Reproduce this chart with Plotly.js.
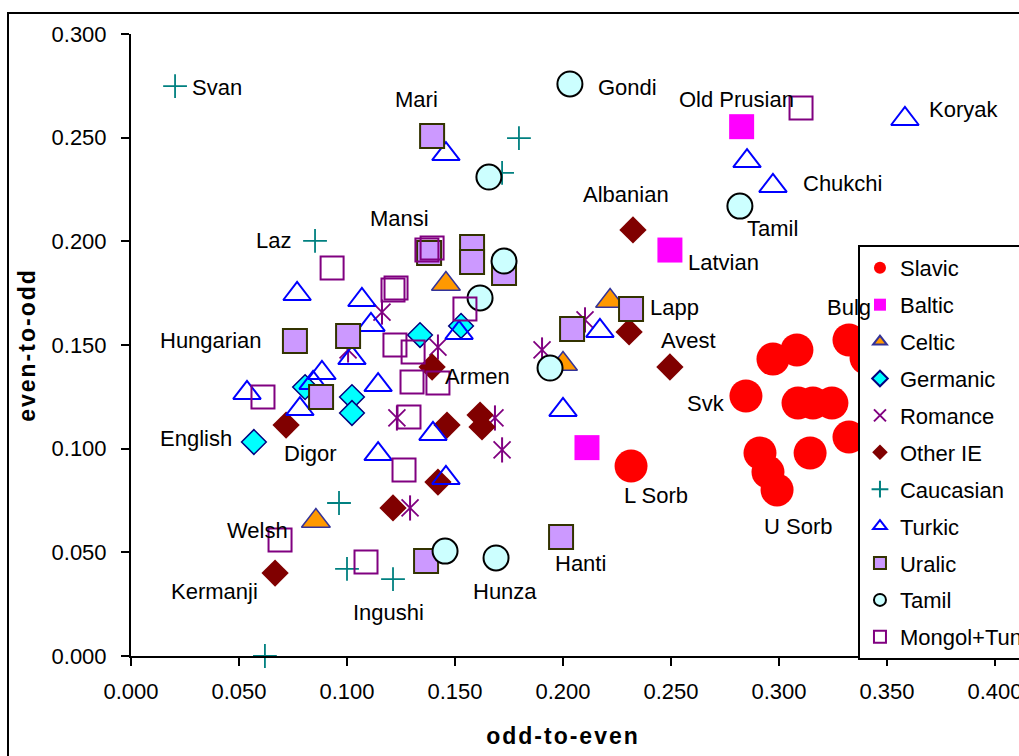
<!DOCTYPE html>
<html>
<head>
<meta charset="utf-8">
<script src="https://cdn.plot.ly/plotly-3.0.1.min.js"></script>
<style>
html,body{margin:0;padding:0;overflow:hidden;background:#fff;width:1019px;height:756px;}
#plot{position:absolute;left:0;top:0;width:1060px;height:756px;}
#frame{position:absolute;left:7px;top:12px;width:1100px;height:800px;border:2px solid #000;pointer-events:none;}
.xtitle,.ytitle{letter-spacing:2px;}
</style>
</head>
<body>
<div id="plot"></div>
<div id="frame"></div>
<script>
// ---- data (odd-to-even = x, even-to-odd = y) ----
const slavicX = [0.2315,0.2847,0.2972,0.3083,0.3088,0.3157,0.3245,0.3324,0.3324,0.3403,0.2912,0.2949,0.2991,0.3144];
const slavicY = [0.0916,0.1254,0.1432,0.1476,0.1220,0.1220,0.1220,0.1056,0.1524,0.1437,0.0979,0.0887,0.0801,0.0979];
const balticX = [0.2827,0.2495,0.2111];
const balticY = [0.2553,0.1958,0.1005];
const celticX = [0.1458,0.2218,0.2000,0.0856];
const celticY = [0.1794,0.1712,0.1408,0.0651];
const germanicX = [0.0569,0.0806,0.1023,0.1023,0.1338,0.1528];
const germanicY = [0.1032,0.1297,0.1249,0.1172,0.1548,0.1592];
const romanceX = [0.1162,0.1421,0.1005,0.1231,0.1685,0.1718,0.1292,0.1903,0.2102];
const romanceY = [0.1659,0.1490,0.1476,0.1148,0.1148,0.0994,0.0714,0.1476,0.1621];
const otherIEX = [0.2324,0.2306,0.2495,0.0718,0.1394,0.1463,0.1616,0.1625,0.1421,0.1213,0.0667];
const otherIEY = [0.2055,0.1563,0.1394,0.1114,0.1394,0.1114,0.1162,0.1105,0.0839,0.0714,0.0400];
const caucasianX = [0.0204,0.0852,0.1796,0.1718,0.0963,0.1000,0.1213,0.0620];
const caucasianY = [0.2749,0.2002,0.2498,0.2330,0.0738,0.0420,0.0371,0.0000];
const turkicX = [0.3583,0.2852,0.2972,0.1458,0.0769,0.1069,0.1111,0.1023,0.0884,0.0843,0.0782,0.0537,0.1144,0.1144,0.1519,0.1398,0.1458,0.2000,0.2171];
const turkicY = [0.2590,0.2387,0.2267,0.2421,0.1746,0.1717,0.1597,0.1437,0.1365,0.1317,0.1191,0.1269,0.1307,0.0974,0.1558,0.1071,0.0859,0.1187,0.1568];
const uralicX = [0.1394,0.1579,0.1579,0.1727,0.0759,0.1005,0.0880,0.2315,0.2042,0.1991,0.1366,0.1380];
const uralicY = [0.2508,0.1973,0.1900,0.1847,0.1519,0.1543,0.1249,0.1674,0.1577,0.0574,0.0458,0.1944];
const tamilX = [0.2032,0.1657,0.1727,0.1616,0.1940,0.2819,0.1454,0.1690];
const tamilY = [0.2759,0.2310,0.1905,0.1727,0.1389,0.2170,0.0506,0.0473];
const mongolX = [0.3102,0.0931,0.1370,0.1394,0.1213,0.1227,0.1546,0.1222,0.1306,0.1301,0.1421,0.0611,0.1287,0.1264,0.0690,0.1088];
const mongolY = [0.2643,0.1871,0.1958,0.1968,0.1765,0.1775,0.1674,0.1500,0.1466,0.1322,0.1317,0.1249,0.1153,0.0897,0.0560,0.0453];

const labelNames = ["Svan","Mari","Gondi","Old Prusian","Koryak","Chukchi","Albanian","Tamil","Mansi","Laz","Latvian","Lapp","Bulg","Hungarian","Avest","Armen","Svk","English","Digor","L Sorb","U Sorb","Welsh","Hanti","Kermanji","Hunza","Ingushi"];
const labelX = [0.0398,0.1324,0.2299,0.2801,0.3854,0.3296,0.2292,0.2968,0.1241,0.0662,0.2741,0.2514,0.3324,0.0370,0.2579,0.1602,0.2660,0.0301,0.0829,0.2431,0.3088,0.0586,0.2083,0.0387,0.1731,0.1194];
const labelY = [0.2740,0.2682,0.2740,0.2682,0.2634,0.2277,0.2224,0.2060,0.2108,0.2002,0.1900,0.1683,0.1683,0.1524,0.1524,0.1350,0.1216,0.1051,0.0979,0.0772,0.0627,0.0603,0.0444,0.0309,0.0309,0.0212];

const FONT = "Liberation Sans, Arial, sans-serif";

function tr(name, x, y, symbol, size, fill, line, lw, extra) {
  return Object.assign({
    type: "scatter", mode: "markers", name: name, x: x, y: y,
    legendgroup: name, cliponaxis: false, hoverinfo: "skip",
    marker: {symbol: symbol, size: size, color: fill, line: {color: line, width: lw}}
  }, extra || {});
}

const traces = [
  tr("Slavic", slavicX, slavicY, "circle", 33, "#FF0000", "#FF0000", 0),
  tr("Baltic", balticX, balticY, "square", 25, "#FF00FF", "#FF00FF", 0),
  tr("Celtic", celticX, celticY, "triangle-up", 25, "#FF9900", "#333399", 1.5),
  tr("Germanic", germanicX, germanicY, "diamond", 19, "#00FFFF", "#000080", 1.5),
  tr("Romance", romanceX, romanceY, "x-thin-open", 17, "#800080", "#800080", 1.8),
  tr("Romance|", romanceX, romanceY, "line-ns-open", 18, "#800080", "#800080", 2, {showlegend: false, legendgroup: "Romance"}),
  tr("Other IE", otherIEX, otherIEY, "diamond", 21, "#800000", "#800000", 0),
  tr("Caucasian", caucasianX, caucasianY, "cross-thin-open", 17, "#008080", "#008080", 1.8),
  tr("Turkic", turkicX, turkicY, "triangle-up-open", 24, "#0000FF", "#0000FF", 2),
  tr("Uralic", uralicX, uralicY, "square", 24, "#CC99FF", "#333300", 2),
  tr("Tamil", tamilX, tamilY, "circle", 25, "#CCFFFF", "#000000", 2),
  tr("Mongol+Tung", mongolX, mongolY, "square-open", 23, "#800080", "#800080", 2)
];

const annotations = labelNames.map((t, i) => ({
  x: labelX[i], y: labelY[i], xref: "x", yref: "y", text: t, showarrow: false,
  font: {family: FONT, size: 22, color: "#000"}, xanchor: "center", yanchor: "middle"
}));

const axisCommon = {
  showgrid: false, zeroline: false, showline: true, linecolor: "#000", linewidth: 2,
  ticks: "outside", ticklen: 8, tickwidth: 2, tickcolor: "#000",
  tickfont: {family: FONT, size: 22, color: "#000"}, tickformat: ".3f", dtick: 0.05,
  automargin: false, fixedrange: true
};

const layout = {
  width: 1060, height: 756,
  margin: {l: 131, r: 65, t: 34, b: 100, autoexpand: false},
  paper_bgcolor: "rgba(0,0,0,0)", plot_bgcolor: "rgba(0,0,0,0)",
  font: {family: FONT, size: 22, color: "#000"},
  xaxis: Object.assign({}, axisCommon, {
    range: [0, 0.4], tick0: 0, ticklabelstandoff: 7,
    title: {text: "odd-to-even", font: {family: FONT, size: 23, color: "#000", weight: "bold"}, standoff: 24}
  }),
  yaxis: Object.assign({}, axisCommon, {
    range: [0, 0.3], tick0: 0, ticklabelstandoff: 10,
    title: {text: "even-to-odd", font: {family: FONT, size: 23, color: "#000", weight: "bold"}, standoff: 9}
  }),
  showlegend: true,
  legend: {
    x: 0.8414, y: 0.6608, xanchor: "left", yanchor: "top",
    bgcolor: "#FFFFFF", bordercolor: "#000", borderwidth: 2,
    font: {family: FONT, size: 22, color: "#000"},
    tracegroupgap: 5.3, traceorder: "grouped", itemsizing: "constant"
  },
  annotations: annotations
};

Plotly.newPlot("plot", traces, layout, {staticPlot: true, displayModeBar: false});
</script>
</body>
</html>
